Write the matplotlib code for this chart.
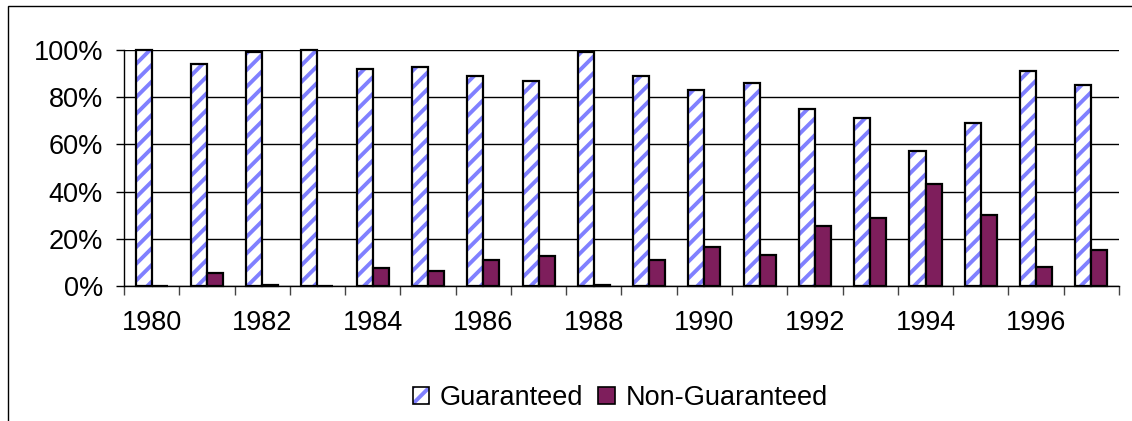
import matplotlib.pyplot as plt
import numpy as np
from matplotlib.patches import Patch, Rectangle
from matplotlib.ticker import FuncFormatter

plt.rcParams['font.family'] = ['Liberation Sans', 'DejaVu Sans']
plt.rcParams['hatch.linewidth'] = 2.8

anios = list(range(1980, 1998))
garantizado = [1.00, 0.94, 0.99, 1.00, 0.92, 0.93, 0.89, 0.87, 0.99,
               0.89, 0.83, 0.86, 0.75, 0.71, 0.57, 0.69, 0.91, 0.85]
no_garantizado = [0.0, 0.056, 0.005, 0.0, 0.075, 0.065, 0.109, 0.126, 0.005,
                  0.109, 0.167, 0.133, 0.253, 0.287, 0.431, 0.302, 0.082, 0.153]
etiquetas = ["Guaranteed", "Non-Guaranteed"]

color_rayas = "#8080FF"
color_no = "#7E1E5C"
tam = 19.5

fig = plt.figure(figsize=(11.32, 4.21), dpi=100)
ax = fig.add_axes([0.1095, 0.3207, 0.879, 0.5605])

x = np.arange(len(anios))
ancho = 0.29

# barras rayadas: relleno con rayas y luego el borde negro encima
ax.bar(x - ancho / 2, garantizado, ancho, color="white", edgecolor=color_rayas,
       hatch="//", linewidth=0, zorder=3)
ax.bar(x - ancho / 2, garantizado, ancho, fill=False, edgecolor="black",
       linewidth=1.6, zorder=4, clip_on=False)
ax.bar(x + ancho / 2, no_garantizado, ancho, color=color_no, edgecolor="black",
       linewidth=1.6, zorder=4, clip_on=False)

ax.set_xlim(-0.5, len(anios) - 0.5)
ax.set_ylim(0, 1.0)
ax.set_yticks(np.arange(0, 1.01, 0.2))
ax.yaxis.set_major_formatter(FuncFormatter(lambda v, p: "%d%%" % round(v * 100)))
ax.grid(axis="y", color="black", linewidth=1, zorder=0)

ax.set_xticks(x[::2])
ax.set_xticklabels([str(a) for a in anios[::2]])
ax.set_xticks(np.arange(-0.5, len(anios), 1), minor=True)
ax.tick_params(axis="x", which="major", length=0, pad=17, labelsize=tam)
ax.tick_params(axis="x", which="minor", length=6.5, width=1, color="#444444")
ax.tick_params(axis="y", length=6, width=1, labelsize=tam, pad=9)

for lado in ["top", "right"]:
    ax.spines[lado].set_visible(False)
ax.spines["left"].set_linewidth(1)
ax.spines["bottom"].set_linewidth(1)

h1 = (Patch(facecolor="white", edgecolor=color_rayas, hatch="//", linewidth=0),
      Patch(fill=False, edgecolor="black", linewidth=1.2))
h2 = Patch(facecolor=color_no, edgecolor="black", linewidth=1.2)
fig.legend([h1, h2], etiquetas, loc="center", bbox_to_anchor=(0.548, 0.054),
           ncol=2, frameon=False, fontsize=tam, handlelength=0.6,
           handleheight=0.6, handletextpad=0.4, columnspacing=0.55)

# marco exterior del grafico
fig.add_artist(Rectangle((8 / 1132, -0.05), 1.2, 1.05 - 6 / 421,
                         transform=fig.transFigure, fill=False,
                         edgecolor="black", linewidth=1))

fig.savefig("out.png", dpi=100)
